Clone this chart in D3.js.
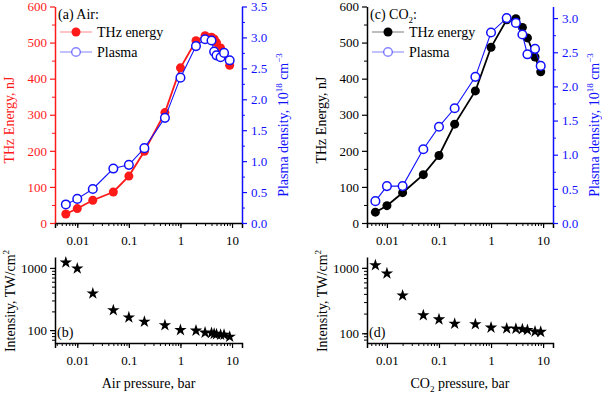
<!DOCTYPE html>
<html>
<head>
<meta charset="utf-8">
<script src="https://cdn.jsdelivr.net/npm/d3@7"></script>
<style>
body { margin: 0; background: #fff; }
svg, svg text { font-family: "Liberation Serif", "Times New Roman", serif; }
</style>
</head>
<body>
<div id="chart"></div>
<script>
// pressures, bar
var airPressure = [0.006, 0.01, 0.02, 0.05, 0.1, 0.2, 0.5, 1, 2, 3, 4, 4.5, 5, 6, 7, 9];
var airTHz = [25, 40, 63, 86, 130, 199, 306, 430, 505, 519, 515, 510, 500, 485, 470, 437];
var airPlasma = [0.30, 0.39, 0.55, 0.88, 0.94, 1.21, 1.70, 2.35, 2.86, 2.97, 2.95, 2.77, 2.71, 2.68, 2.75, 2.63];
var airIntensity = [1222, 978, 388, 209, 160, 136, 120, 100, 98, 91, 90, 87, 86, 84, 84, 78];

var co2Pressure = [0.006, 0.01, 0.02, 0.05, 0.1, 0.2, 0.5, 1, 2, 3, 4, 5, 7, 9];
var co2THz = [30, 48, 84, 134, 187, 274, 366, 487, 563, 566, 542, 513, 460, 419];
var co2Plasma = [0.32, 0.54, 0.54, 1.08, 1.41, 1.68, 2.14, 2.79, 3.0, 2.93, 2.76, 2.47, 2.55, 2.30];
var co2Intensity = [1099, 823, 378, 189, 163, 140, 137, 122, 118, 117, 115, 112, 106, 105];

var xTicks = [0.01, 0.1, 1, 10];
var xTickLabels = ["0.01", "0.1", "1", "10"];
var thzTicks = [0, 100, 200, 300, 400, 500, 600];
var plasmaTicks = [0, 0.5, 1.0, 1.5, 2.0, 2.5, 3.0, 3.5];
var intTicks = [100, 1000];

var width = 602, height = 394;
var red = "#ff1a1a", blue = "#1010ff";
var serif = "'Liberation Serif', 'Times New Roman', serif";
var topY = 6.5, baseY = 223;

var svg = d3.select("#chart").append("svg")
    .attr("width", width)
    .attr("height", height)
    .attr("font-family", serif);

function minorLog(lo, hi) {
    var out = [];
    for (var e = -3; e <= 3; e++) {
        for (var m = 1; m < 10; m++) {
            var v = m * Math.pow(10, e);
            if (v >= lo && v <= hi) out.push(v);
        }
    }
    return out;
}

function styleAxis(g, color) {
    g.attr("font-family", serif).attr("font-size", 13);
    g.select(".domain").attr("stroke", color).attr("stroke-width", 1.5);
    g.selectAll(".tick line").attr("stroke", color).attr("stroke-width", 1.2);
    g.selectAll(".tick text").attr("fill", color);
}

function xAxisLog(g, x, y0) {
    var minor = g.append("g")
        .attr("transform", "translate(0," + y0 + ")")
        .call(d3.axisBottom(x).tickValues(minorLog(x.domain()[0], x.domain()[1])).tickSize(3).tickFormat(""));
    minor.select(".domain").remove();
    minor.selectAll(".tick line").attr("stroke", "#000").attr("stroke-width", 1);
    var major = g.append("g")
        .attr("transform", "translate(0," + y0 + ")")
        .call(d3.axisBottom(x).tickValues(xTicks).tickSize(5).tickPadding(5)
            .tickFormat(function (d, i) { return xTickLabels[i]; }));
    styleAxis(major, "#000");
    major.selectAll(".tick text").attr("dy", "0.95em");
}

function topPanel(o) {
    var g = svg.append("g");
    var x = d3.scaleLog().domain(o.xDomain).range(o.xRange);
    var yL = d3.scaleLinear().domain([0, 600]).range([baseY, topY]);
    var yR = d3.scaleLinear().domain([0, o.plasmaMax]).range([baseY, topY]);

    xAxisLog(g, x, baseY);

    var lMinor = g.append("g").attr("transform", "translate(" + o.xRange[0] + ",0)")
        .call(d3.axisLeft(yL).tickValues(d3.range(50, 600, 100)).tickSize(3).tickFormat(""));
    lMinor.select(".domain").remove();
    lMinor.selectAll(".tick line").attr("stroke", o.color);
    var lAxis = g.append("g").attr("transform", "translate(" + o.xRange[0] + ",0)")
        .call(d3.axisLeft(yL).tickValues(thzTicks).tickSize(5).tickPadding(3).tickSizeOuter(0));
    styleAxis(lAxis, o.color);

    var rTicks = plasmaTicks.filter(function (d) { return d <= o.plasmaMax; });
    var rMinor = g.append("g").attr("transform", "translate(" + o.xRange[1] + ",0)")
        .call(d3.axisRight(yR).tickValues(d3.range(0.25, o.plasmaMax, 0.5)).tickSize(3).tickFormat(""));
    rMinor.select(".domain").remove();
    rMinor.selectAll(".tick line").attr("stroke", blue);
    var rAxis = g.append("g").attr("transform", "translate(" + o.xRange[1] + ",0)")
        .call(d3.axisRight(yR).tickValues(rTicks).tickSize(5).tickPadding(4).tickSizeOuter(0)
            .tickFormat(d3.format(".1f")));
    styleAxis(rAxis, blue);

    var pts = o.pressure.map(function (p, i) {
        return { p: p, thz: o.thz[i], pl: o.plasma[i] };
    });

    var thzLine = d3.line()
        .x(function (d) { return x(d.p); })
        .y(function (d) { return yL(d.thz); });
    var plLine = d3.line()
        .x(function (d) { return x(d.p); })
        .y(function (d) { return yR(d.pl); });

    g.append("path").datum(pts).attr("d", thzLine)
        .attr("fill", "none").attr("stroke", o.color).attr("stroke-width", 1.8);
    g.selectAll(".thz").data(pts).enter().append("circle")
        .attr("cx", function (d) { return x(d.p); })
        .attr("cy", function (d) { return yL(d.thz); })
        .attr("r", 4.5).attr("fill", o.color);

    g.append("path").datum(pts).attr("d", plLine)
        .attr("fill", "none").attr("stroke", blue).attr("stroke-width", 1.1);
    g.selectAll(".pl").data(pts).enter().append("circle")
        .attr("cx", function (d) { return x(d.p); })
        .attr("cy", function (d) { return yR(d.pl); })
        .attr("r", 4.3).attr("fill", "#fff").attr("stroke", blue).attr("stroke-width", 1.5);

    // legend
    var lx = o.xRange[0];
    var title = g.append("text").attr("x", lx + 3).attr("y", 19)
        .attr("font-size", 14).attr("fill", "#000");
    title.append("tspan").text(o.label);
    if (o.sub) {
        title.append("tspan").attr("dy", 4).attr("font-size", 9).text(o.sub);
        title.append("tspan").attr("dy", -4).text(":");
    }
    g.append("line").attr("x1", lx + 5).attr("x2", lx + 37).attr("y1", 32).attr("y2", 32)
        .attr("stroke", o.color).attr("stroke-opacity", 0.35).attr("stroke-width", 1.5);
    g.append("circle").attr("cx", lx + 21).attr("cy", 32).attr("r", 4.5).attr("fill", o.color);
    g.append("text").attr("x", lx + 42).attr("y", 37).attr("font-size", 14).text("THz energy");
    g.append("line").attr("x1", lx + 5).attr("x2", lx + 37).attr("y1", 52).attr("y2", 52)
        .attr("stroke", blue).attr("stroke-opacity", 0.35).attr("stroke-width", 1.5);
    g.append("circle").attr("cx", lx + 21).attr("cy", 52).attr("r", 4.3)
        .attr("fill", "#fff").attr("stroke", blue).attr("stroke-opacity", 0.5).attr("stroke-width", 1.5);
    g.append("text").attr("x", lx + 42).attr("y", 57).attr("font-size", 14).text("Plasma");

    // axis titles
    g.append("text")
        .attr("transform", "translate(" + (o.xRange[0] - 41) + ",120)rotate(-90)")
        .attr("text-anchor", "middle").attr("font-size", 14).attr("fill", o.color)
        .text("THz Energy, nJ");
    var rt = g.append("text")
        .attr("transform", "translate(" + (o.xRange[1] + 46) + ",125)rotate(-90)")
        .attr("text-anchor", "middle").attr("font-size", 14).attr("fill", blue);
    rt.append("tspan").text("Plasma density, 10");
    rt.append("tspan").attr("dy", -6).attr("font-size", 9).text("18");
    rt.append("tspan").attr("dy", 6).text(" cm");
    rt.append("tspan").attr("dy", -6).attr("font-size", 9).text("\u22123");
}

function bottomPanel(o) {
    var g = svg.append("g");
    var x = d3.scaleLog().domain(o.xDomain).range(o.xRange);
    var y = d3.scaleLog().domain(o.yDomain).range([343, 257]);

    xAxisLog(g, x, 343);

    var yMinor = g.append("g").attr("transform", "translate(" + o.xRange[0] + ",0)")
        .call(d3.axisLeft(y).tickValues(minorLog(o.yDomain[0], o.yDomain[1])).tickSize(3).tickFormat(""));
    yMinor.select(".domain").remove();
    yMinor.selectAll(".tick line").attr("stroke", "#000");
    var yAxis = g.append("g").attr("transform", "translate(" + o.xRange[0] + ",0)")
        .call(d3.axisLeft(y).tickValues(intTicks).tickSize(5).tickPadding(3).tickSizeOuter(0)
            .tickFormat(d3.format("d")));
    styleAxis(yAxis, "#000");

    var star = d3.symbol().type(d3.symbolStar).size(48);
    g.selectAll(".st").data(o.pressure).enter().append("path")
        .attr("d", star)
        .attr("transform", function (d, i) {
            return "translate(" + x(d) + "," + y(o.intensity[i]) + ")";
        })
        .attr("fill", "#000");

    g.append("text").attr("x", o.xRange[0] + 2).attr("y", 337)
        .attr("font-size", 14).text(o.label);

    var yt = g.append("text")
        .attr("transform", "translate(" + (o.xRange[0] - 40) + ",301)rotate(-90)")
        .attr("text-anchor", "middle").attr("font-size", 14);
    yt.append("tspan").text("Intensity, TW/cm");
    yt.append("tspan").attr("dy", -6).attr("font-size", 9).text("2");

    var xt = g.append("text")
        .attr("x", (o.xRange[0] + o.xRange[1]) / 2).attr("y", 388)
        .attr("text-anchor", "middle").attr("font-size", 14);
    xt.append("tspan").text(o.gas);
    if (o.sub) {
        xt.append("tspan").attr("dy", 4).attr("font-size", 9).text(o.sub);
        xt.append("tspan").attr("dy", -4).text(" pressure, bar");
    } else {
        xt.append("tspan").text(" pressure, bar");
    }
}

topPanel({
    xDomain: [0.0037, 15.6], xRange: [55, 242], plasmaMax: 3.5,
    pressure: airPressure, thz: airTHz, plasma: airPlasma,
    color: red, label: "(a) Air:"
});
topPanel({
    xDomain: [0.00414, 15.5], xRange: [367, 553], plasmaMax: 3.17,
    pressure: co2Pressure, thz: co2THz, plasma: co2Plasma,
    color: "#000", label: "(c) CO", sub: "2"
});
bottomPanel({
    xDomain: [0.0037, 15.6], xRange: [55, 242], yDomain: [62, 1500],
    pressure: airPressure, intensity: airIntensity, label: "(b)", gas: "Air"
});
bottomPanel({
    xDomain: [0.00414, 15.5], xRange: [367, 553], yDomain: [71, 1466],
    pressure: co2Pressure, intensity: co2Intensity, label: "(d)", gas: "CO", sub: "2"
});
</script>
</body>
</html>
